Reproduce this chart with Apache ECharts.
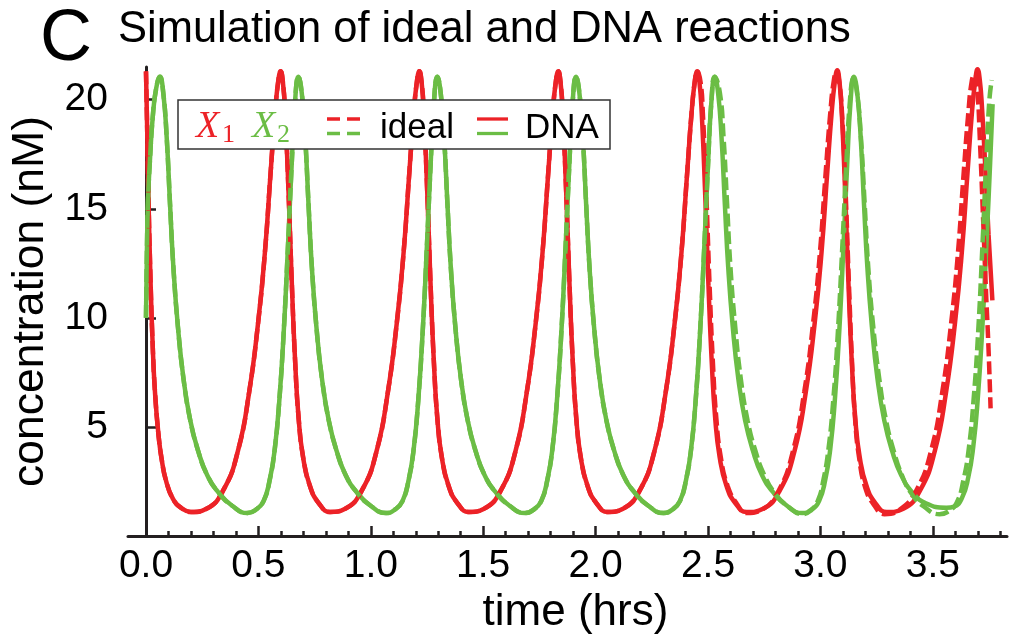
<!DOCTYPE html>
<html>
<head>
<meta charset="utf-8">
<title>Simulation of ideal and DNA reactions</title>
<script src="https://cdn.jsdelivr.net/npm/echarts@6/dist/echarts.min.js"></script>
<style>
    html, body { margin: 0; padding: 0; background: #fff; }
    #main { width: 1017px; height: 637px; }
</style>
</head>
<body>
<div id="main"></div>
<script>
    // [time (hrs), concentration (nM)]
    // first four X1 cycles: ideal and DNA lie on top of each other
    var x1Early = [
        [0, 21.3], [0.005, 18.8], [0.01, 16.0], [0.02, 11.8], [0.03, 8.7], [0.04, 6.6], [0.055, 4.7], [0.07, 3.5], [0.09, 2.5], [0.12, 1.7], [0.155, 1.3], [0.2, 1.1],
        [0.269, 1.25], [0.344, 2.1], [0.409, 3.9], [0.459, 6.6], [0.499, 9.8], [0.529, 13.0], [0.554, 16.6], [0.574, 19.4], [0.589, 20.9], [0.599, 21.3],
        [0.609, 20.8], [0.619, 19.4], [0.634, 15.8], [0.649, 11.5], [0.664, 7.9], [0.679, 5.4], [0.699, 3.6], [0.729, 2.3], [0.769, 1.5], [0.819, 1.1],
        [0.886, 1.25], [0.961, 2.1], [1.026, 3.9], [1.076, 6.6], [1.116, 9.8], [1.146, 13.0], [1.171, 16.6], [1.191, 19.4], [1.206, 20.9], [1.216, 21.3],
        [1.226, 20.8], [1.236, 19.4], [1.251, 15.8], [1.266, 11.5], [1.281, 7.9], [1.296, 5.4], [1.316, 3.6], [1.346, 2.3], [1.386, 1.5], [1.436, 1.1],
        [1.504, 1.25], [1.579, 2.1], [1.644, 3.9], [1.694, 6.6], [1.734, 9.8], [1.764, 13.0], [1.789, 16.6], [1.809, 19.4], [1.824, 20.9], [1.834, 21.3],
        [1.844, 20.8], [1.854, 19.4], [1.869, 15.8], [1.884, 11.5], [1.899, 7.9], [1.914, 5.4], [1.934, 3.6], [1.964, 2.3], [2.004, 1.5], [2.054, 1.1],
        [2.122, 1.25], [2.197, 2.1], [2.262, 3.9], [2.312, 6.6], [2.352, 9.8], [2.382, 13.0], [2.407, 16.6], [2.427, 19.4], [2.442, 20.9], [2.452, 21.3]
    ];
    var x1DnaLate = [
        [2.462, 20.8], [2.472, 19.4], [2.487, 15.8], [2.502, 11.5], [2.517, 7.9], [2.532, 5.4], [2.552, 3.6], [2.582, 2.3], [2.622, 1.5], [2.672, 1.1],
        [2.745, 1.25], [2.82, 2.1], [2.885, 3.9], [2.935, 6.6], [2.975, 9.8], [3.005, 13.0], [3.03, 16.6], [3.05, 19.4], [3.065, 20.9], [3.075, 21.35],
        [3.085, 20.8], [3.095, 19.4], [3.11, 15.8], [3.125, 11.5], [3.14, 7.9], [3.155, 5.4], [3.175, 3.6], [3.205, 2.3], [3.245, 1.5], [3.295, 1.1],
        [3.369, 1.25], [3.444, 2.1], [3.509, 3.9], [3.559, 6.6], [3.599, 9.8], [3.629, 13.0], [3.654, 16.6], [3.674, 19.4], [3.689, 20.9], [3.699, 21.4],
        [3.709, 20.9], [3.719, 19.6], [3.733, 17.0], [3.748, 13.8], [3.765, 10.8]
    ];
    var x1IdealLate = [
        [2.467, 20.8], [2.477, 19.4], [2.492, 15.8], [2.507, 11.5], [2.522, 7.9], [2.537, 5.4], [2.557, 3.6], [2.587, 2.3], [2.627, 1.5], [2.672, 1.05],
        [2.738, 1.2], [2.813, 2.05], [2.878, 3.9], [2.928, 6.6], [2.968, 9.8], [2.998, 13.0], [3.023, 16.6], [3.044, 19.4], [3.06, 20.9], [3.072, 21.3],
        [3.084, 20.8], [3.096, 19.4], [3.112, 15.8], [3.127, 11.5], [3.141, 7.9], [3.154, 5.4], [3.172, 3.6], [3.2, 2.2], [3.24, 1.4], [3.285, 1.0],
        [3.352, 1.2], [3.427, 2.1], [3.492, 3.9], [3.542, 6.6], [3.582, 9.8], [3.612, 13.0], [3.637, 16.6], [3.658, 19.4], [3.674, 20.9], [3.686, 21.2],
        [3.697, 20.6], [3.71, 18.0], [3.725, 14.2], [3.737, 11.1], [3.747, 8.8], [3.757, 5.85]
    ];

    var x2Early = [
        [0, 10.0], [0.004, 13.0], [0.009, 15.4], [0.018, 17.3], [0.03, 19.2], [0.045, 20.5], [0.062, 21.05],
        [0.077, 20.3], [0.092, 18.3], [0.107, 15.2], [0.122, 12.3], [0.142, 9.6], [0.167, 7.2], [0.197, 5.3], [0.232, 3.9], [0.272, 2.8], [0.322, 2.0], [0.382, 1.4], [0.452, 1.05],
        [0.488, 1.2], [0.523, 1.6], [0.551, 2.6], [0.573, 4.0], [0.593, 6.2], [0.613, 9.4], [0.633, 13.6], [0.648, 17.0], [0.663, 19.9], [0.678, 21.05],
        [0.693, 20.3], [0.708, 18.3], [0.723, 15.2], [0.738, 12.3], [0.758, 9.6], [0.783, 7.2], [0.813, 5.3], [0.848, 3.9], [0.888, 2.8], [0.938, 2.0], [0.998, 1.4], [1.068, 1.05],
        [1.106, 1.2], [1.141, 1.6], [1.169, 2.6], [1.191, 4.0], [1.211, 6.2], [1.231, 9.4], [1.251, 13.6], [1.266, 17.0], [1.281, 19.9], [1.296, 21.05],
        [1.311, 20.3], [1.326, 18.3], [1.341, 15.2], [1.356, 12.3], [1.376, 9.6], [1.401, 7.2], [1.431, 5.3], [1.466, 3.9], [1.506, 2.8], [1.556, 2.0], [1.616, 1.4], [1.686, 1.05],
        [1.723, 1.2], [1.758, 1.6], [1.786, 2.6], [1.808, 4.0], [1.828, 6.2], [1.848, 9.4], [1.868, 13.6], [1.883, 17.0], [1.898, 19.9], [1.913, 21.05],
        [1.928, 20.3], [1.943, 18.3], [1.958, 15.2], [1.973, 12.3], [1.993, 9.6], [2.018, 7.2], [2.048, 5.3], [2.083, 3.9], [2.123, 2.8], [2.173, 2.0], [2.233, 1.4], [2.303, 1.05],
        [2.34, 1.2], [2.375, 1.6], [2.403, 2.6], [2.425, 4.0], [2.445, 6.2], [2.465, 9.4], [2.485, 13.6], [2.5, 17.0], [2.515, 19.9], [2.53, 21.05]
    ];
    var x2DnaLate = [
        [2.545, 20.3], [2.56, 18.3], [2.575, 15.2], [2.59, 12.3], [2.61, 9.6], [2.635, 7.2], [2.665, 5.3], [2.7, 3.9], [2.74, 2.8], [2.79, 2.0], [2.85, 1.4], [2.92, 1.05],
        [2.959, 1.2], [2.994, 1.6], [3.022, 2.6], [3.044, 4.0], [3.064, 6.2], [3.084, 9.4], [3.104, 13.6], [3.119, 17.0], [3.134, 19.9], [3.149, 21.05],
        [3.164, 20.3], [3.179, 18.3], [3.194, 15.2], [3.209, 12.3], [3.229, 9.6], [3.254, 7.2], [3.284, 5.3], [3.319, 3.9], [3.359, 2.8], [3.409, 2.0], [3.469, 1.5], [3.56, 1.3],
        [3.595, 1.35], [3.63, 1.75], [3.658, 2.7], [3.68, 4.1], [3.7, 6.3], [3.72, 9.5], [3.74, 13.7], [3.755, 17.1], [3.766, 19.8]
    ];
    var x2IdealLate = [
        [2.553, 20.3], [2.569, 18.3], [2.585, 15.2], [2.6, 12.3], [2.621, 9.6], [2.646, 7.2], [2.676, 5.3], [2.711, 3.9], [2.75, 2.8], [2.798, 1.95], [2.856, 1.35], [2.922, 1.0],
        [2.955, 1.15], [2.988, 1.6], [3.014, 2.6], [3.036, 4.0], [3.057, 6.2], [3.078, 9.4], [3.099, 13.6], [3.115, 17.0], [3.131, 19.9], [3.147, 21.0],
        [3.163, 20.3], [3.18, 18.3], [3.197, 15.2], [3.213, 12.3], [3.235, 9.6], [3.262, 7.2], [3.292, 5.3], [3.326, 3.9], [3.362, 2.8], [3.405, 1.95], [3.46, 1.35], [3.53, 1.0],
        [3.565, 1.1], [3.605, 1.5], [3.637, 2.6], [3.66, 4.0], [3.681, 6.2], [3.702, 9.4], [3.722, 13.6], [3.737, 17.0], [3.751, 19.9], [3.762, 20.9]
    ];

    var xMajorTicks = [0, 0.5, 1.0, 1.5, 2.0, 2.5, 3.0, 3.5];
    var xMinorTicks = [0.1, 0.2, 0.3, 0.4, 0.6, 0.7, 0.8, 0.9, 1.1, 1.2, 1.3, 1.4, 1.6, 1.7, 1.8, 1.9,
        2.1, 2.2, 2.3, 2.4, 2.6, 2.7, 2.8, 2.9, 3.1, 3.2, 3.3, 3.4, 3.6, 3.7, 3.8];
    var yTicks = [5, 10, 15, 20];

    var RED = '#ec2227';
    var GREEN = '#6bbd45';
    var INK = '#231f20';
    var FONT = '"Liberation Sans", Arial, Helvetica, sans-serif';
    var SERIF = '"Liberation Serif", "Times New Roman", serif';

    var myChart = echarts.init(document.getElementById('main'));

    function curve(name, data, color, dashed) {
        return {
            name: name,
            type: 'line',
            data: data,
            xAxisIndex: 0,
            showSymbol: false,
            symbol: 'none',
            smooth: 0.5,
            lineStyle: { color: color, width: 4.5, type: dashed ? [13, 5] : 'solid' },
            z: dashed ? 3 : 2
        };
    }

    myChart.setOption({
        animation: false,
        backgroundColor: '#fff',
        grid: { left: 128, right: 10, top: 67, bottom: 101, outerBoundsMode: 'none' },
        xAxis: [
            {
                type: 'value',
                min: -0.08,
                max: 3.83,
                position: 'bottom',
                axisLine: { lineStyle: { color: INK, width: 3 } },
                axisTick: { inside: true, length: 10, customValues: xMajorTicks, lineStyle: { color: INK, width: 2.5 } },
                axisLabel: {
                    customValues: xMajorTicks,
                    formatter: function (v) { return v.toFixed(1); },
                    fontFamily: FONT, fontSize: 39, color: '#000', margin: 11
                },
                splitLine: { show: false },
                name: 'time (hrs)',
                nameLocation: 'middle',
                nameGap: 51,
                nameTextStyle: { fontFamily: FONT, fontSize: 44, color: '#000', padding: [0, 0, 0, 16] }
            },
            {
                // minor ticks only
                type: 'value',
                min: -0.08,
                max: 3.83,
                position: 'bottom',
                axisLine: { show: false },
                axisTick: { inside: true, length: 5, customValues: xMinorTicks, lineStyle: { color: INK, width: 2.5 } },
                axisLabel: { show: false },
                splitLine: { show: false }
            }
        ],
        yAxis: {
            type: 'value',
            min: 0,
            max: 21.5,
            axisLine: { onZero: true, lineStyle: { color: INK, width: 3 } },
            axisTick: { inside: true, length: 10, customValues: yTicks, lineStyle: { color: INK, width: 2.5 } },
            axisLabel: { customValues: yTicks, fontFamily: FONT, fontSize: 39, color: '#000', margin: 20 },
            splitLine: { show: false },
            name: 'concentration (nM)',
            nameLocation: 'middle',
            nameGap: 72,
            nameTextStyle: { fontFamily: FONT, fontSize: 44.5, color: '#000' }
        },
        series: [
            curve('X1 DNA', x1Early.concat(x1DnaLate), RED, false),
            curve('X2 DNA', x2Early.concat(x2DnaLate), GREEN, false),
            curve('X1 ideal', x1Early.concat(x1IdealLate), RED, true),
            curve('X2 ideal', x2Early.concat(x2IdealLate), GREEN, true)
        ],
        graphic: [
            { type: 'text', x: 40, y: 40, style: { text: 'C', fontFamily: FONT, fontSize: 72, fill: '#000', verticalAlign: 'middle' } },
            { type: 'text', x: 118, y: 30, style: { text: 'Simulation of ideal and DNA reactions', fontFamily: FONT, fontSize: 43.5, fill: '#000', verticalAlign: 'middle' } },

            // legend box
            { type: 'rect', z: 100, shape: { x: 178, y: 100, width: 432, height: 49 }, style: { fill: '#fff', stroke: '#333', lineWidth: 1.5 } },
            { type: 'text', z: 101, x: 196, y: 127, style: { text: 'X', fontFamily: SERIF, fontStyle: 'italic', fontSize: 38, fill: RED, verticalAlign: 'middle' } },
            { type: 'text', z: 101, x: 222, y: 135, style: { text: '1', fontFamily: SERIF, fontSize: 26, fill: RED, verticalAlign: 'middle' } },
            { type: 'text', z: 101, x: 252, y: 127, style: { text: 'X', fontFamily: SERIF, fontStyle: 'italic', fontSize: 38, fill: GREEN, verticalAlign: 'middle' } },
            { type: 'text', z: 101, x: 277, y: 135, style: { text: '2', fontFamily: SERIF, fontSize: 26, fill: GREEN, verticalAlign: 'middle' } },
            { type: 'line', z: 101, shape: { x1: 327, y1: 119, x2: 360, y2: 119 }, style: { stroke: RED, lineWidth: 3.3, lineDash: [13, 7] } },
            { type: 'line', z: 101, shape: { x1: 327, y1: 133.5, x2: 360, y2: 133.5 }, style: { stroke: GREEN, lineWidth: 3.3, lineDash: [13, 7] } },
            { type: 'text', z: 101, x: 380, y: 128.5, style: { text: 'ideal', fontFamily: FONT, fontSize: 35, fill: '#000', verticalAlign: 'middle' } },
            { type: 'line', z: 101, shape: { x1: 477, y1: 119, x2: 508, y2: 119 }, style: { stroke: RED, lineWidth: 3.3 } },
            { type: 'line', z: 101, shape: { x1: 477, y1: 133.5, x2: 508, y2: 133.5 }, style: { stroke: GREEN, lineWidth: 3.3 } },
            { type: 'text', z: 101, x: 525, y: 128.5, style: { text: 'DNA', fontFamily: FONT, fontSize: 35, fill: '#000', verticalAlign: 'middle' } }
        ]
    });
</script>
</body>
</html>
